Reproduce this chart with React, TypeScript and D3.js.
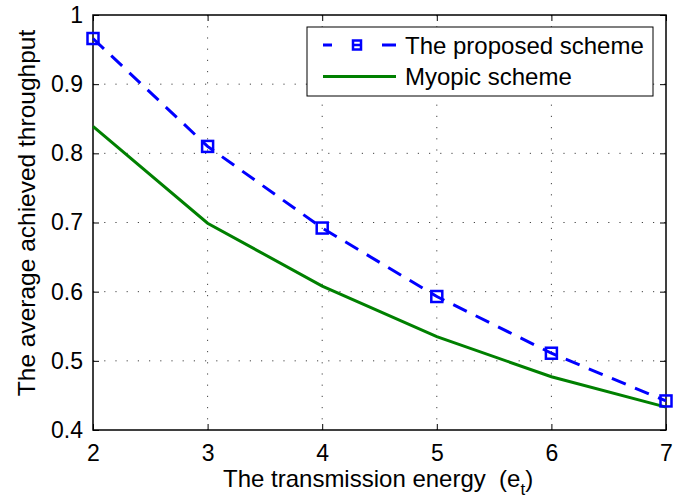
import * as d3 from "d3";
import React, { useEffect, useRef } from "react";

const energy = [2, 3, 4, 5, 6, 7];
const proposed = [0.966, 0.81, 0.692, 0.593, 0.511, 0.442];
const myopic = [0.839, 0.699, 0.608, 0.535, 0.477, 0.433];
const xTicks = [2, 3, 4, 5, 6, 7];
const yTicks = [0.4, 0.5, 0.6, 0.7, 0.8, 0.9, 1];

const FONT = "'Liberation Sans', Arial, Helvetica, sans-serif";

export default function App() {
  const svgRef = useRef<SVGSVGElement | null>(null);

  useEffect(() => {
    const width = 685;
    const height = 500;
    const svg = d3.select(svgRef.current);
    svg.selectAll("*").remove();

    const margin = { top: 15, right: 19, bottom: 70, left: 93 };
    const w = width - margin.left - margin.right;
    const h = height - margin.top - margin.bottom;

    const x = d3.scaleLinear().domain([2, 7]).range([0, w]);
    const y = d3.scaleLinear().domain([0.4, 1]).range([h, 0]);

    const root = svg.append("g").attr("transform", `translate(${margin.left},${margin.top})`);

    // grid
    const grid = root.append("g").attr("stroke", "#444").attr("stroke-width", 1).attr("stroke-dasharray", "1.2,10");
    grid.selectAll("line.gx")
      .data(xTicks.slice(1, -1))
      .join("line")
      .attr("x1", d => x(d)).attr("x2", d => x(d))
      .attr("y1", 0).attr("y2", h);
    grid.selectAll("line.gy")
      .data(yTicks.slice(1, -1))
      .join("line")
      .attr("x1", 0).attr("x2", w)
      .attr("y1", d => y(d)).attr("y2", d => y(d));

    // axes with inside ticks
    const styleAxis = (g: d3.Selection<SVGGElement, unknown, null, undefined>) => {
      g.select(".domain").remove();
      g.selectAll(".tick line").attr("stroke", "black").attr("stroke-width", 1);
      g.selectAll(".tick text").attr("font-family", FONT).attr("font-size", 23).attr("fill", "black");
    };
    root.append("g").attr("transform", `translate(0,${h})`)
      .call(d3.axisBottom(x).tickValues(xTicks).tickFormat(d3.format("d")).tickSizeInner(-6).tickPadding(15))
      .call(styleAxis);
    root.append("g")
      .call(d3.axisTop(x).tickValues(xTicks).tickFormat(() => "").tickSizeInner(-6))
      .call(styleAxis);
    root.append("g")
      .call(d3.axisLeft(y).tickValues(yTicks).tickFormat(d => (d === 1 ? "1" : d3.format(".1f")(d as number))).tickSizeInner(-6).tickPadding(10))
      .call(styleAxis);
    root.append("g").attr("transform", `translate(${w},0)`)
      .call(d3.axisRight(y).tickValues(yTicks).tickFormat(() => "").tickSizeInner(-6))
      .call(styleAxis);

    root.append("rect")
      .attr("width", w).attr("height", h)
      .attr("fill", "none").attr("stroke", "black").attr("stroke-width", 1.5);

    const line = d3.line<number>().x((_d, i) => x(energy[i])).y(d => y(d));

    root.append("path")
      .datum(myopic)
      .attr("d", line)
      .attr("fill", "none")
      .attr("stroke", "#008000")
      .attr("stroke-width", 3);

    root.append("path")
      .datum(proposed)
      .attr("d", line)
      .attr("fill", "none")
      .attr("stroke", "#0000ff")
      .attr("stroke-width", 3)
      .attr("stroke-dasharray", "15,10");

    root.append("g").selectAll("rect")
      .data(proposed)
      .join("rect")
      .attr("x", (_d, i) => x(energy[i]) - 5.5)
      .attr("y", d => y(d) - 5.5)
      .attr("width", 11).attr("height", 11)
      .attr("fill", "none")
      .attr("stroke", "#0000ff")
      .attr("stroke-width", 2.5);

    // legend
    const lg = svg.append("g").attr("transform", "translate(307,27)");
    lg.append("rect")
      .attr("width", 346).attr("height", 69)
      .attr("fill", "white").attr("stroke", "black").attr("stroke-width", 1);
    lg.append("line")
      .attr("x1", 16).attr("x2", 89).attr("y1", 18).attr("y2", 18)
      .attr("stroke", "#0000ff").attr("stroke-width", 3).attr("stroke-dasharray", "9,50,14");
    lg.append("line")
      .attr("x1", 47).attr("x2", 53).attr("y1", 18).attr("y2", 18)
      .attr("stroke", "#0000ff").attr("stroke-width", 2.5);
    lg.append("rect")
      .attr("x", 46).attr("y", 13.5).attr("width", 8).attr("height", 9)
      .attr("fill", "none").attr("stroke", "#0000ff").attr("stroke-width", 2.5);
    lg.append("line")
      .attr("x1", 16).attr("x2", 89).attr("y1", 49.5).attr("y2", 49.5)
      .attr("stroke", "#008000").attr("stroke-width", 3);
    lg.append("text")
      .attr("x", 98).attr("y", 27).attr("font-family", FONT).attr("font-size", 24)
      .text("The proposed scheme");
    lg.append("text")
      .attr("x", 98).attr("y", 58).attr("font-family", FONT).attr("font-size", 24)
      .text("Myopic scheme");

    // axis titles
    const xl = svg.append("text")
      .attr("x", 223).attr("y", 487)
      .style("white-space", "pre")
      .attr("font-family", FONT).attr("font-size", 24);
    xl.append("tspan").text("The transmission energy  (e");
    xl.append("tspan").attr("font-size", 17).attr("dy", 8).text("t");
    xl.append("tspan").attr("dy", -8).text(")");

    svg.append("text")
      .attr("transform", `translate(35,213) rotate(-90)`)
      .attr("text-anchor", "middle")
      .attr("font-family", FONT).attr("font-size", 24.5)
      .text("The average achieved throughput");
  }, []);

  return (
    <div style={{ position: "absolute", left: 0, top: 0 }}>
      <svg ref={svgRef} width={685} height={500} style={{ display: "block", background: "white" }} />
    </div>
  );
}
